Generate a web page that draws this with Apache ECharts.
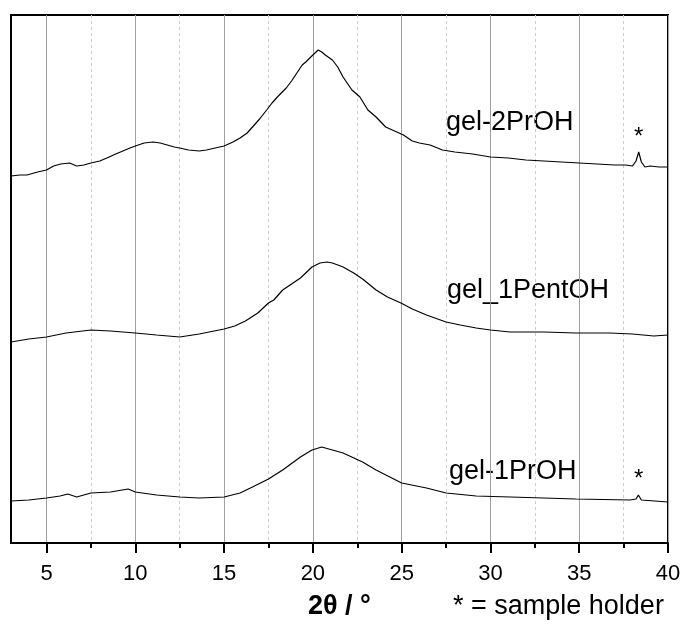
<!DOCTYPE html>
<html>
<head>
<meta charset="utf-8">
<script src="https://cdn.jsdelivr.net/npm/echarts@6/dist/echarts.min.js"></script>
<style>html,body{margin:0;padding:0;background:#fff;}#c{width:686px;height:633px;}</style>
</head>
<body>
<div id="c"></div>
<script>
// 2θ (degrees) vs. intensity (arbitrary, offset traces)
const majorTicks = [5, 10, 15, 20, 25, 30, 35, 40];
const minorTicks = [7.5, 12.5, 17.5, 22.5, 27.5, 32.5, 37.5];

const gel2PrOH = [
  [3.0,367],[3.5,368],[3.9,368],[4.5,371],[5.0,373],[5.4,377],[5.8,379],[6.3,380],[6.7,377],[7.1,378],
  [7.5,380],[8.0,382],[8.4,385],[8.9,389],[9.3,392],[9.7,395],[10.0,397],[10.5,400],[11.0,401],[11.4,400],
  [11.8,398],[12.2,396],[12.5,395],[13.0,393],[13.6,392],[14.0,393],[14.5,395],[15.0,397],[15.5,401],[15.9,405],
  [16.3,410],[16.6,416],[17.0,424],[17.4,433],[17.7,440],[18.0,446],[18.5,455],[18.8,462],[19.1,470],[19.4,478],
  [19.6,481],[20.0,488],[20.3,493],[20.5,491],[20.7,488],[21.1,483],[21.4,476],[21.7,466],[22.2,453],[22.65,446],
  [23.1,433],[23.56,426],[24.1,416],[24.6,412],[25.1,408],[25.6,402],[26.0,400],[26.6,398],[27.3,393],[28.0,391],
  [29.0,389],[30.0,386],[31.0,385],[32.0,383],[33.0,382],[34.0,381],[35.0,380],[36.0,379],[37.0,378],[37.6,378],
  [38.0,377],[38.2,382],[38.35,391],[38.5,381],[38.7,376],[39.0,377],[39.5,376],[40.0,376]
];
const gel1PentOH = [
  [3.0,201],[4.0,204],[5.0,206],[6.1,210],[7.5,213],[8.6,212],[10.0,210],[11.2,208],[12.5,206],[13.6,209],
  [15.0,214],[15.6,217],[16.2,222],[16.9,230],[17.5,240],[17.8,243],[18.3,253],[18.8,259],[19.3,265],[19.95,276],
  [20.4,280],[20.8,281],[21.1,280],[21.7,276],[22.3,270],[22.8,264],[23.56,253],[24.2,246],[24.96,240],[25.6,234],
  [26.4,228],[27.5,221],[28.3,218],[29.2,215],[30.0,213],[31.1,211],[33.0,211],[34.8,210],[36.7,210],[38.0,209],
  [39.2,207],[40.0,208]
];
const gel1PrOH = [
  [3.0,42],[4.0,43],[5.0,45],[5.76,47],[6.2,49],[6.7,46],[7.5,50],[8.6,51],[9.6,54],[10.0,51],
  [11.2,48],[12.5,46],[13.6,45],[15.0,46],[15.9,50],[16.6,56],[17.5,64],[18.3,73],[19.3,86],[19.95,93],
  [20.5,96],[21.1,93],[21.7,90],[22.8,81],[23.56,73],[25.0,60],[26.4,55],[27.5,50],[29.2,47],[31.1,46],
  [33.0,45],[34.8,44],[37.86,43],[38.2,44],[38.33,48],[38.5,43],[38.6,42],[40.0,41]
];
const seriesNames = ['gel-2PrOH', 'gel_1PentOH', 'gel-1PrOH'];
const xTitle = '2θ / °';
const note = '* = sample holder';

const FONT = '"Liberation Sans", Arial, Helvetica, sans-serif';
const chart = echarts.init(document.getElementById('c'), null, {renderer: 'canvas'});

function lineSeries(name, data) {
  return {
    name: name, type: 'line', data: data, xAxisIndex: 0, yAxisIndex: 0,
    showSymbol: false, symbol: 'none', smooth: false,
    lineStyle: {color: '#000', width: 1.2}, silent: true
  };
}

const option = {
  animation: false,
  backgroundColor: '#fff',
  grid: {left: 11, right: 18, top: 15, bottom: 90, show: true, borderColor: '#000', borderWidth: 2, backgroundColor: 'transparent'},
  xAxis: [
    {
      type: 'value', min: 3, max: 40, splitNumber: 8, minInterval: 5, maxInterval: 5, position: 'bottom',
      axisLine: {show: true, onZero: false, lineStyle: {color: '#000', width: 2}},
      axisTick: {show: true, length: 10, inside: false, customValues: majorTicks, lineStyle: {color: '#000', width: 2}},
      axisLabel: {show: true, customValues: majorTicks, fontSize: 22, color: '#000', fontFamily: FONT, margin: 20},
      splitLine: {show: true, lineStyle: {color: '#a0a0a0', width: 1}},
      z: 1
    },
    {
      type: 'value', min: 3, max: 40, position: 'bottom',
      axisLine: {show: false, onZero: false},
      axisTick: {show: true, length: 5, inside: false, customValues: minorTicks, lineStyle: {color: '#000', width: 2}},
      axisLabel: {show: false},
      splitLine: {show: true, lineStyle: {color: '#cccccc', width: 1, type: [3, 3]}},
      z: 1
    }
  ],
  yAxis: [{type: 'value', min: 0, max: 528, show: false}],
  series: [
    lineSeries(seriesNames[0], gel2PrOH),
    lineSeries(seriesNames[1], gel1PentOH),
    lineSeries(seriesNames[2], gel1PrOH)
  ],
  graphic: [
    {type: 'text', left: 446, top: 109, style: {text: seriesNames[0], font: '27px ' + FONT, fill: '#000'}},
    {type: 'text', left: 447, top: 277, style: {text: seriesNames[1], font: '27px ' + FONT, fill: '#000'}},
    {type: 'text', left: 449, top: 458, style: {text: seriesNames[2], font: '27px ' + FONT, fill: '#000'}},
    {type: 'text', left: 634, top: 125, style: {text: '*', font: '24px ' + FONT, fill: '#000'}},
    {type: 'text', left: 634, top: 467, style: {text: '*', font: '24px ' + FONT, fill: '#000'}},
    {type: 'text', left: 308, top: 593, style: {text: xTitle, font: 'bold 27px ' + FONT, fill: '#000'}},
    {type: 'text', left: 453, top: 593, style: {text: note, font: '27px ' + FONT, fill: '#000'}}
  ]
};
chart.setOption(option);
</script>
</body>
</html>
